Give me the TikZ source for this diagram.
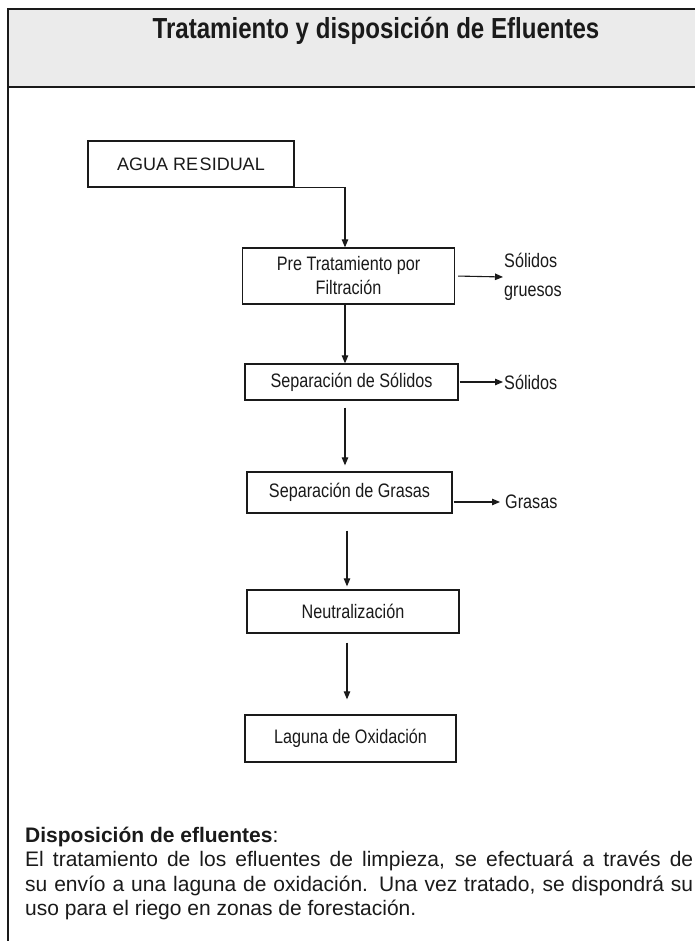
\documentclass[tikz,border=0pt]{standalone}
\usepackage{fontspec}
\setmainfont{Liberation Sans}
\newfontfamily\narrowfont[FakeStretch=0.83]{Liberation Sans}
\usetikzlibrary{arrows.meta}
\definecolor{ink}{HTML}{1A1A1A}
\definecolor{headfill}{HTML}{EBEBEB}
\tikzset{
  procbox/.style={draw=ink, line width=1.3pt, inner sep=0pt, align=center,
    font=\narrowfont\fontsize{19.5}{24}\selectfont, text=ink},
  sidelabel/.style={anchor=west, inner sep=0pt, align=left,
    font=\narrowfont\fontsize{19.5}{28.5}\selectfont, text=ink},
  arr/.style={draw=ink, line width=1.1pt, -{Triangle[length=8pt,width=6.5pt]}},
  frameline/.style={draw=ink, line width=1.5pt},
  bodytext/.style={anchor=base west, inner sep=0pt, font=\fontsize{21}{24}\selectfont, text=ink}
}
\begin{document}
\begin{tikzpicture}[x=1pt,y=-1pt]
\useasboundingbox (0,0) rectangle (695,941);
\fill[white] (0,0) rectangle (695,941);
% header
\fill[headfill] (8,9) rectangle (695,87);
\draw[frameline] (695,9) -- (8,9) -- (8,941);
\draw[frameline] (8,87) -- (695,87);
\node[font=\narrowfont\bfseries\fontsize{29}{32}\selectfont, text=ink] (title) at (376,31) {Tratamiento y disposición de Efluentes};

% axis of the vertical flow
\coordinate (axis) at (345,0);

% process boxes
\node[procbox, minimum width=206pt, minimum height=46pt, font=\fontsize{18}{22}\selectfont] (agua) at (191,164) {AGUA RE\kern1.5pt SIDUAL};
\node[procbox, minimum width=212pt, minimum height=56pt] (pre) at (348.5,276) {Pre Tratamiento por\\Filtración};
\node[procbox, minimum width=213pt, minimum height=36pt] (seps) at (351.5,382) {Separación de Sólidos};
\node[procbox, minimum width=205pt, minimum height=41pt] (sepg) at (349.5,492.5) {Separación de Grasas};
\node[procbox, minimum width=212pt, minimum height=43pt] (neut) at (353,611.5) {Neutralización};
\node[procbox, minimum width=211pt, minimum height=47pt] (lag) at (350.5,738.5) {Laguna de Oxidación};

% side outputs
\node[sidelabel] (grue) at (504,277) {Sólidos\\gruesos};
\node[sidelabel] (sol) at (504,382) {Sólidos};
\node[sidelabel] (gras) at (505,502) {Grasas};

% flow arrows
\draw[arr] (agua.south east) -| (pre.north -| axis);
\draw[arr] (pre.south -| axis) -- (seps.north -| axis);
\draw[arr, shorten <=7pt, shorten >=6pt] (seps.south -| axis) -- (sepg.north -| axis);
\draw[arr, shorten <=17pt, shorten >=3pt] ([xshift=2pt]sepg.south -| axis) -- ([xshift=2pt]neut.north -| axis);
\draw[arr, shorten <=9pt, shorten >=15pt] ([xshift=2pt]neut.south -| axis) -- ([xshift=2pt]lag.north -| axis);

\draw[arr, shorten <=3pt, shorten >=1pt] (pre.east) -- (grue.west);
\draw[arr, shorten <=1pt, shorten >=1pt] (seps.east) -- (sol.west);
\draw[arr, shorten <=1pt, shorten >=5pt] (sepg.east |- gras.west) -- (gras.west);

% text below
\node[bodytext] (t0) at (25,842) {\textbf{Disposición de efluentes}:};
\node[bodytext] (t1) at (25,866.5) {\makebox[668pt][s]{El tratamiento de los efluentes de limpieza, se efectuará a través de}};
\node[bodytext] (t2) at (25,891) {\makebox[668pt][s]{su envío a una laguna de oxidación. Una vez tratado, se dispondrá su}};
\node[bodytext] (t3) at (25,915) {uso para el riego en zonas de forestación.};
\end{tikzpicture}
\end{document}
